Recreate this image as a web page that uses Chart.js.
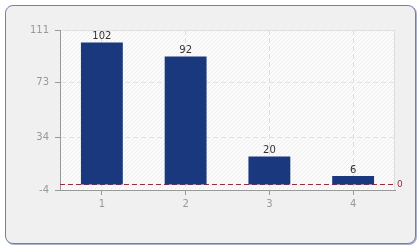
<!DOCTYPE html>
<html>
<head>
<meta charset="utf-8">
<script src="https://cdn.jsdelivr.net/npm/chart.js@4"></script>
<style>
    body { margin: 0; background: #fff; }
    #frame {
        position: absolute; left: 5px; top: 5px; width: 409px; height: 237px;
        background: #f0f0f0; border: 1px solid #6f80b0; border-radius: 8px;
        box-shadow: 1px 1px 0 #a9b3d0;
    }
    #chart { position: absolute; left: 0; top: 0; }
</style>
</head>
<body>
<div id="frame"></div>
<canvas id="chart" width="420" height="250"></canvas>
<script>
const categories = ['1', '2', '3', '4'];
const values = [102, 92, 20, 6];
const yTicks = [-4, 34, 73, 111];

document.addEventListener('DOMContentLoaded', () => {
    const ctx = document.getElementById('chart').getContext('2d');

    // hatched plot background
    const tile = document.createElement('canvas');
    tile.width = 4; tile.height = 4;
    const t = tile.getContext('2d');
    t.fillStyle = '#fbfbfb';
    t.fillRect(0, 0, 4, 4);
    t.fillStyle = '#eeeeee';
    for (let i = 0; i < 4; i++) t.fillRect(i, 3 - i, 1, 1);
    const hatch = ctx.createPattern(tile, 'repeat');

    const plotBg = {
        id: 'plotBg',
        beforeDraw(chart) {
            const a = chart.chartArea;
            const c = chart.ctx;
            c.save();
            c.fillStyle = hatch;
            c.fillRect(a.left, a.top, a.right - a.left, a.bottom - a.top);
            c.strokeStyle = '#dddddd';
            c.lineWidth = 1;
            c.strokeRect(a.left + 0.5, a.top + 0.5, a.right - a.left - 1, a.bottom - a.top);
            c.restore();
        }
    };

    const zeroLine = {
        id: 'zeroLine',
        beforeDatasetsDraw(chart) {
            const a = chart.chartArea;
            const y = Math.round(chart.scales.y.getPixelForValue(0)) + 0.5;
            const c = chart.ctx;
            c.save();
            c.strokeStyle = '#9b2a3c';
            c.lineWidth = 1;
            c.setLineDash([5, 3]);
            c.beginPath();
            c.moveTo(a.left, y);
            c.lineTo(a.right, y);
            c.stroke();
            c.setLineDash([]);
            c.fillStyle = '#9b2a3c';
            c.font = '9px "DejaVu Sans"';
            c.textBaseline = 'middle';
            c.fillText('0', a.right + 2, y);
            c.restore();
        }
    };

    const barLabels = {
        id: 'barLabels',
        afterDatasetsDraw(chart) {
            const c = chart.ctx;
            c.save();
            c.fillStyle = '#333333';
            c.font = '10px "DejaVu Sans"';
            c.textAlign = 'center';
            c.textBaseline = 'bottom';
            chart.getDatasetMeta(0).data.forEach((bar, i) => {
                c.fillText(values[i], bar.x, bar.y - 1);
            });
            c.restore();
        }
    };

    new Chart(ctx, {
        type: 'bar',
        data: {
            labels: categories,
            datasets: [{
                data: values,
                backgroundColor: '#1a387e',
                categoryPercentage: 1,
                barPercentage: 0.5
            }]
        },
        options: {
            responsive: false,
            animation: false,
            layout: { padding: { left: 0, top: 30, right: 25, bottom: 0 } },
            plugins: { legend: { display: false }, tooltip: { enabled: false } },
            scales: {
                x: {
                    afterFit: s => { s.height = 60; },
                    grid: { offset: false, color: '#dedede', tickColor: '#999999', tickLength: 5 },
                    border: { color: '#999999', dash: [5, 3] },
                    ticks: { color: '#999999', padding: 3, font: { family: 'DejaVu Sans', size: 10 } }
                },
                y: {
                    min: -4,
                    max: 111,
                    afterFit: s => { s.width = 60; },
                    afterBuildTicks: s => { s.ticks = yTicks.map(v => ({ value: v })); },
                    grid: { color: '#e2e2e2', tickColor: '#999999', tickLength: 5 },
                    border: { color: '#999999', dash: [5, 3] },
                    ticks: { color: '#999999', padding: 6, font: { family: 'DejaVu Sans', size: 10 } }
                }
            }
        },
        plugins: [plotBg, zeroLine, barLabels]
    });
});
</script>
</body>
</html>
